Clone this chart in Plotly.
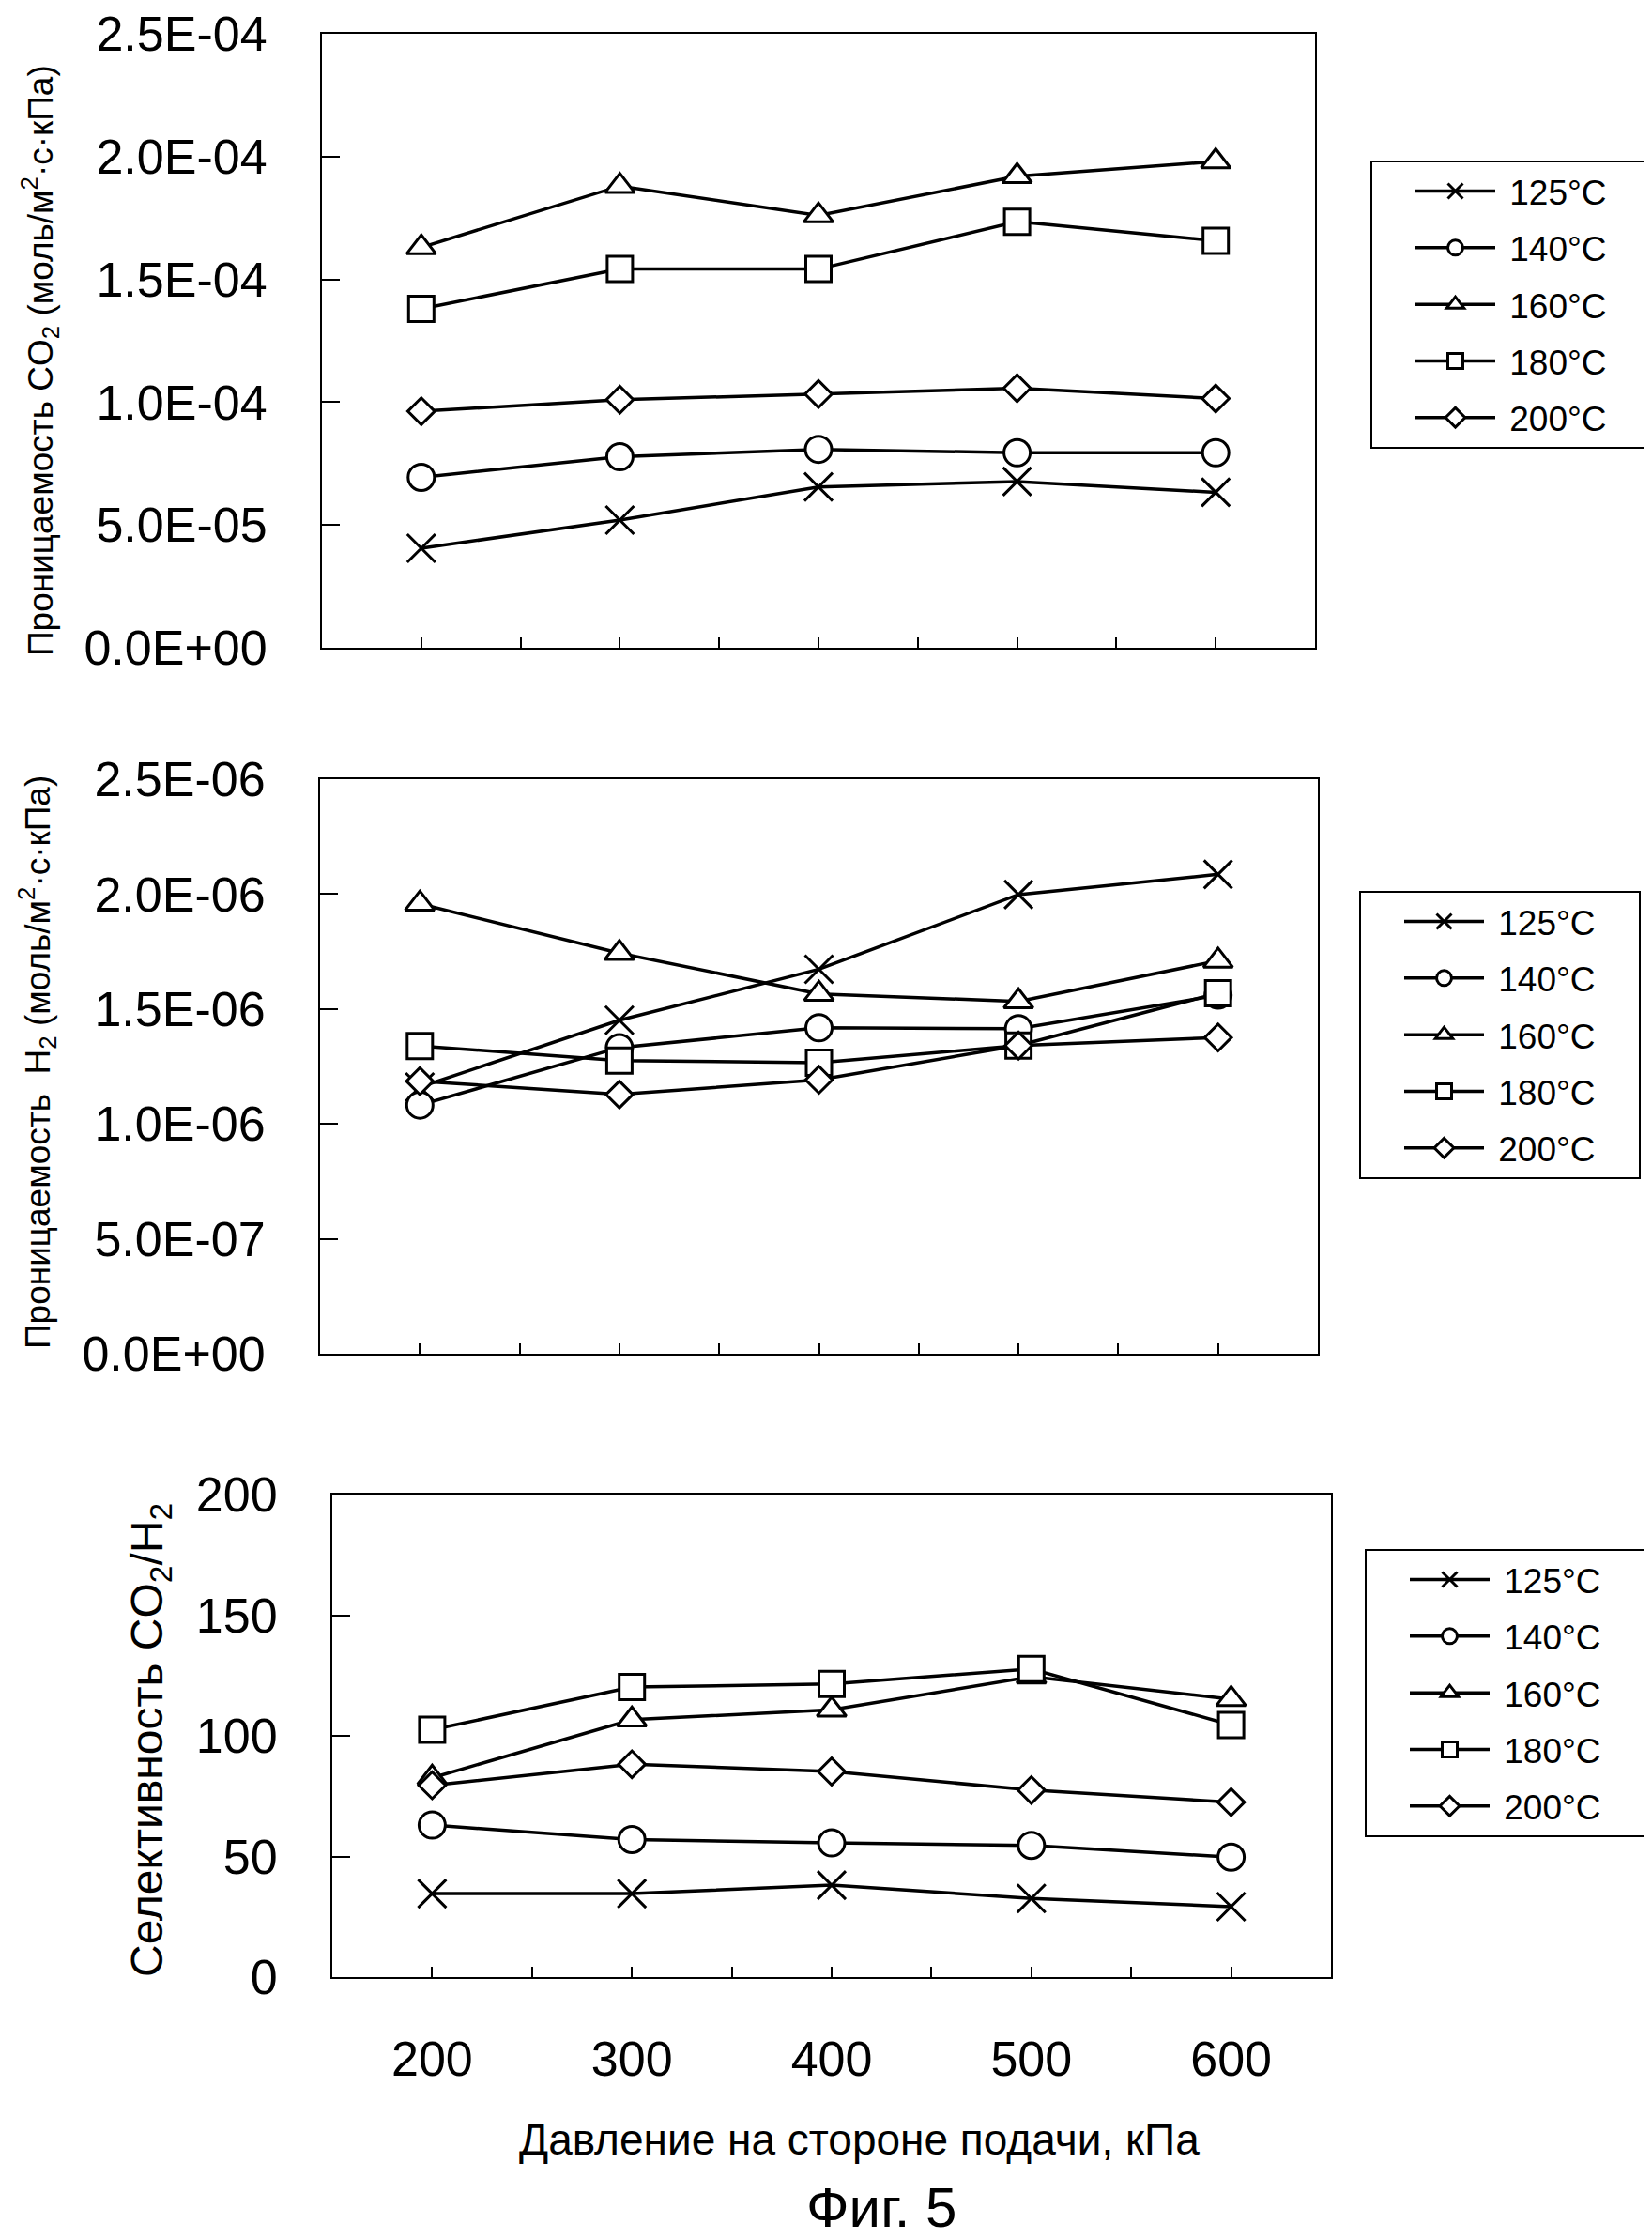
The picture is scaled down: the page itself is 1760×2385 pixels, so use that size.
import plotly.graph_objects as go

# ---------------- data ----------------
pressure = [200, 300, 400, 500, 600]
temps = ["125°C", "140°C", "160°C", "180°C", "200°C"]

# CO2 permeance, mol/(m2 s kPa)
co2_125 = [4.05e-5, 5.2e-5, 6.55e-5, 6.77e-5, 6.33e-5]
co2_140 = [6.94e-5, 7.78e-5, 8.08e-5, 7.94e-5, 7.94e-5]
co2_160 = [1.63e-4, 1.88e-4, 1.76e-4, 1.92e-4, 1.98e-4]
co2_180 = [1.38e-4, 1.542e-4, 1.542e-4, 1.735e-4, 1.657e-4]
co2_200 = [9.63e-5, 1.01e-4, 1.033e-4, 1.057e-4, 1.015e-4]

# H2 permeance, mol/(m2 s kPa)
h2_125 = [1.16e-6, 1.451e-6, 1.673e-6, 1.998e-6, 2.086e-6]
h2_140 = [1.082e-6, 1.332e-6, 1.418e-6, 1.414e-6, 1.56e-6]
h2_160 = [1.958e-6, 1.743e-6, 1.566e-6, 1.533e-6, 1.71e-6]
h2_180 = [1.339e-6, 1.276e-6, 1.266e-6, 1.341e-6, 1.569e-6]
h2_200 = [1.186e-6, 1.128e-6, 1.192e-6, 1.341e-6, 1.376e-6]

# CO2/H2 selectivity
sel_125 = [34.6, 34.6, 38.1, 32.6, 29.2]
sel_140 = [63.0, 57.0, 55.6, 54.6, 49.7]
sel_160 = [82.6, 106.7, 110.8, 124.5, 115.2]
sel_180 = [102.5, 120.2, 121.5, 127.7, 104.5]
sel_200 = [79.5, 88.2, 85.2, 77.5, 72.5]

y1_ticks = [0, 5e-5, 1e-4, 1.5e-4, 2e-4, 2.5e-4]
y1_labels = ["0.0E+00", "5.0E-05", "1.0E-04", "1.5E-04", "2.0E-04", "2.5E-04"]
y2_ticks = [0, 5e-7, 1e-6, 1.5e-6, 2e-6, 2.5e-6]
y2_labels = ["0.0E+00", "5.0E-07", "1.0E-06", "1.5E-06", "2.0E-06", "2.5E-06"]
y3_ticks = [0, 50, 100, 150, 200]
y3_labels = ["0", "50", "100", "150", "200"]
x_ticks = [200, 300, 400, 500, 600]
x_labels = ["200", "300", "400", "500", "600"]

y1_title = "Проницаемость CO<sub>2</sub> (моль/м<sup>2</sup>·с·кПа)"
y2_title = "Проницаемость\u00a0\u00a0H<sub>2</sub> (моль/м<sup>2</sup>·с·кПа)"
y3_title = "Селективность CO<sub>2</sub>/H<sub>2</sub>"
x_title = "Давление на стороне подачи, кПа"
fig_caption = "Фиг. 5"

# ---------------- style ----------------
FONT = "Liberation Sans, Arial, sans-serif"
W, H = 1760, 2385
symbols = ["x-thin", "circle", "triangle-up", "square", "diamond"]
sizes = [30, 28, 27, 27, 22]
NB = "\u00a0"

panels = [
    ([co2_125, co2_140, co2_160, co2_180, co2_200], "x", "y", "legend"),
    ([h2_125, h2_140, h2_160, h2_180, h2_200], "x2", "y2", "legend2"),
    ([sel_125, sel_140, sel_160, sel_180, sel_200], "x3", "y3", "legend3"),
]

fig = go.Figure()
for pi, (series, xa, ya, lg) in enumerate(panels):
    for i, (vals, name) in enumerate(zip(series, temps)):
        is_x = symbols[i] == "x-thin"
        fig.add_trace(go.Scatter(
            x=pressure, y=vals, name=NB + name + NB * 4, mode="lines+markers",
            xaxis=xa, yaxis=ya, legend=lg, legendgroup=f"p{pi}_{i}",
            line=dict(color="black", width=3.5),
            marker=dict(symbol=symbols[i], size=sizes[i],
                        color="black" if is_x else "white",
                        line=dict(color="black", width=3)),
            showlegend=True,
        ))


def px_x(p):
    return p / W


def px_y(p):
    return 1 - p / H


# panel pixel boxes (left, right, top, bottom)
boxes = [(335, 1393, 28, 682), (333, 1396, 822, 1434), (346, 1410, 1584, 2098)]
yticks = [(y1_ticks, y1_labels, [0, 2.50001e-4]), (y2_ticks, y2_labels, [0, 2.50001e-6]),
          (y3_ticks, y3_labels, [0, 200.001])]

layout = dict(width=W, height=H, margin=dict(l=0, r=0, t=0, b=0),
              paper_bgcolor="white", plot_bgcolor="white",
              font=dict(family=FONT, color="black"))
for k, ((l, r, t, b), (tv, tt, rng)) in enumerate(zip(boxes, yticks)):
    sx = "xaxis" if k == 0 else f"xaxis{k+1}"
    sy = "yaxis" if k == 0 else f"yaxis{k+1}"
    anchor_y = "y" if k == 0 else f"y{k+1}"
    anchor_x = "x" if k == 0 else f"x{k+1}"
    layout[sx] = dict(domain=[px_x(l), px_x(r)], anchor=anchor_y, range=[150, 650],
                      showline=True, linecolor="black", linewidth=2, mirror=True,
                      showgrid=False, zeroline=False, ticks="inside", ticklen=11,
                      tickwidth=2, tickcolor="black", tick0=150, dtick=50,
                      showticklabels=False, automargin=False, fixedrange=True)
    layout[sy] = dict(domain=[px_y(b), px_y(t)], anchor=anchor_x, range=rng,
                      showline=True, linecolor="black", linewidth=2, mirror=True,
                      showgrid=False, zeroline=False, ticks="inside", ticklen=19,
                      tickwidth=2, tickcolor="black", tickmode="array",
                      tickvals=tv, ticktext=tt, ticklabelstandoff=46,
                      ticklabeloverflow="allow",
                      tickfont=dict(size=52, family=FONT, color="black"),
                      automargin=False, fixedrange=True)

layout["xaxis3"].update(showticklabels=True, tickmode="array", tickvals=x_ticks,
                        ticktext=x_labels, ticklabelstandoff=41,
                        ticklabeloverflow="allow",
                        tickfont=dict(size=52, family=FONT, color="black"))
layout["xaxis3"]["minor"] = dict(ticks="inside", ticklen=11, tickwidth=2,
                                 tickcolor="black", dtick=50, tick0=150)

legend_pos = [(1452, 163), (1440, 941), (1446, 1642)]
for k, (lx, ly) in enumerate(legend_pos):
    key = "legend" if k == 0 else f"legend{k+1}"
    layout[key] = dict(x=px_x(lx), y=px_y(ly), xanchor="left", yanchor="top",
                       bgcolor="white", bordercolor="black", borderwidth=2,
                       font=dict(size=37, family=FONT, color="black"),
                       itemwidth=85, tracegroupgap=9.2, indentation=41,
                       itemclick=False, itemdoubleclick=False)

fig.update_layout(**layout)

annotations = [
    dict(text=y1_title, x=px_x(34), y=px_y(376), textangle=-90, size=37),
    dict(text=y2_title, x=px_x(31), y=px_y(1124), textangle=-90, size=37),
    dict(text=y3_title, x=px_x(152), y=px_y(1846), textangle=-90, size=48),
    dict(text=x_title, x=px_x(907), y=px_y(2271), textangle=0, size=46),
    dict(text=fig_caption, x=px_x(931), y=px_y(2343), textangle=0, size=60),
]
for a in annotations:
    fig.add_annotation(text=a["text"], x=a["x"], y=a["y"], xref="paper", yref="paper",
                       xanchor="center", yanchor="middle", showarrow=False,
                       textangle=a["textangle"],
                       font=dict(size=a["size"], family=FONT, color="black"))

fig.write_html("out.html")
